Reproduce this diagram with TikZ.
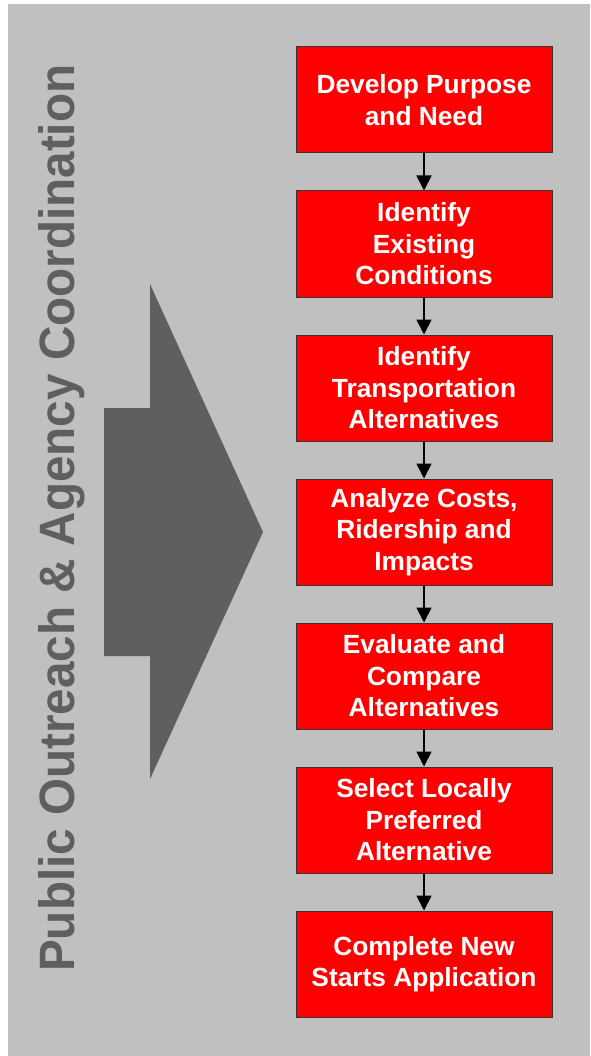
\documentclass[tikz,border=0pt]{standalone}
\usepackage{fontspec}
\setmainfont{Liberation Sans}
\usetikzlibrary{arrows.meta}
\definecolor{bggray}{HTML}{C0C0C0}
\definecolor{darkg}{HTML}{5F5F5F}
\definecolor{boxred}{HTML}{FF0000}
\definecolor{boxline}{HTML}{333333}
\tikzset{
  stepbox/.style={draw=boxline, line width=1pt, fill=boxred, minimum width=256pt, minimum height=106pt, inner sep=0pt, align=center, text=white, font=\fontsize{26.3}{31.5}\selectfont\bfseries},
  flow/.style={line width=1.7pt, draw=black, -{Triangle[width=15pt,length=15pt]}}
}
\begin{document}
\begin{tikzpicture}[x=1pt,y=-1pt]
\useasboundingbox (0,0) rectangle (590,1056);
\fill[bggray] (8,4) rectangle (590,1056);
\fill[darkg] (104,408) -- (150,408) -- (150,284) -- (263,532) -- (150,779) -- (150,656) -- (104,656) -- cycle;
\node[rotate=90, anchor=base west, inner sep=0pt, text=darkg] (side) at (74,972)
  {\resizebox{907pt}{36pt}{\bfseries Public Outreach \& Agency Coordination}};
\node[stepbox] (s1) at (424,100) {Develop Purpose\\and Need};
\node[stepbox] (s2) at (424,244) {Identify\\Existing\\Conditions};
\node[stepbox] (s3) at (424,388) {Identify\\Transportation\\Alternatives};
\node[stepbox] (s4) at (424,532) {Analyze Costs,\\Ridership and\\Impacts};
\node[stepbox] (s5) at (424,676) {Evaluate and\\Compare\\Alternatives};
\node[stepbox] (s6) at (424,820) {Select Locally\\Preferred\\Alternative};
\node[stepbox] (s7) at (424,964) {Complete New\\Starts Application};
\foreach \a/\b in {s1/s2,s2/s3,s3/s4,s4/s5,s5/s6,s6/s7}
  \draw[flow] (\a.south) -- (\b.north);
\end{tikzpicture}
\end{document}
